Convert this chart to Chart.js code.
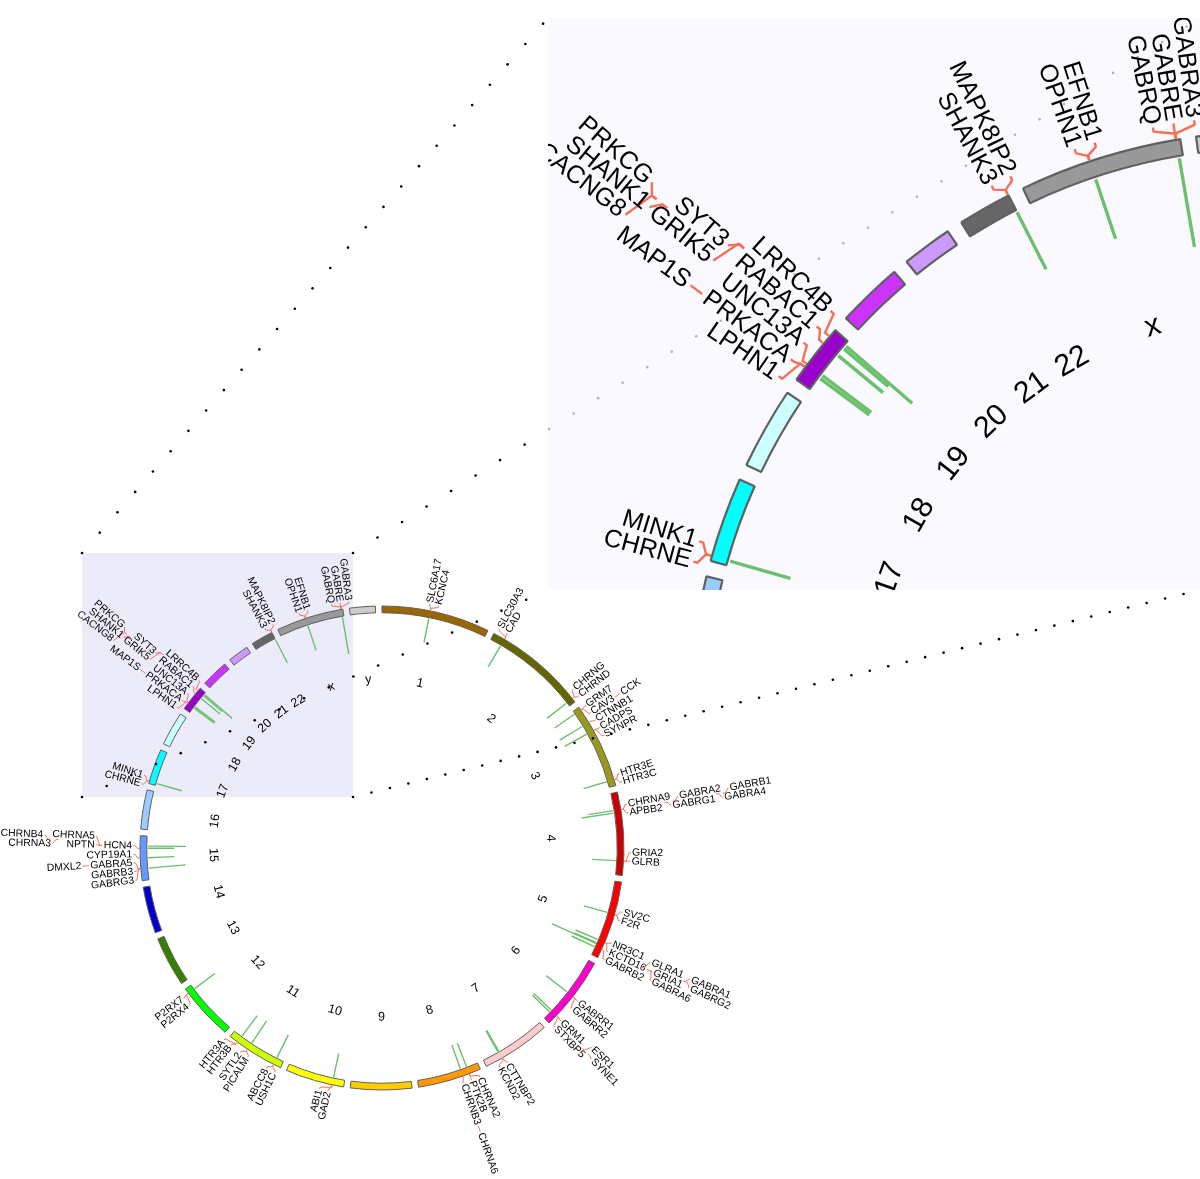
<!DOCTYPE html>
<html>
<head>
<meta charset="utf-8">
<script src="https://cdn.jsdelivr.net/npm/chart.js@4.4.0/dist/chart.umd.min.js"></script>
<style>
  body { margin: 0; background: #fff; }
  #page { position: relative; width: 1200px; height: 1179px; overflow: hidden; }
  #main { position: absolute; left: 0; top: 0; }
  #zoomBox { position: absolute; left: 548px; top: 18px; width: 652px; height: 572px; overflow: hidden; background: rgba(246,246,255,0.72); }
  #inset { position: absolute; left: -23px; top: -51px; }
</style>
</head>
<body>
<div id="page">
  <canvas id="main" width="1200" height="1179"></canvas>
  <div id="zoomBox"><canvas id="inset" width="1500" height="1500"></canvas></div>
</div>
<script>
// chromosomes (Mb)
const chromNames = ['1','2','3','4','5','6','7','8','9','10','11','12','13','14','15','16','17','18','19','20','21','22','x','y']
const chromLengths = [249.25, 243.2, 198.0, 191.15, 180.9, 171.1, 159.1, 146.4, 141.2, 135.5, 135.0, 133.85,
    115.2, 107.35, 102.5, 90.35, 81.2, 78.1, 59.1, 63.0, 48.1, 51.3, 155.3, 59.4]
const gapMb = 15

// genes with labels
const geneNames = ['SLC6A17','KCNC4','SLC30A3','CAD','CHRNG','CHRND','GRM7','CAV3','CCK','CTNNB1','CADPS','SYNPR',
    'HTR3E','HTR3C','CHRNA9','GABRA2','GABRB1','APBB2','GABRG1','GABRA4','GRIA2','GLRB','SV2C','F2R',
    'NR3C1','GLRA1','GABRA1','KCTD16','GRIA1','GABRG2','GABRB2','GABRA6','GABRR1','GABRR2','GRM1','ESR1',
    'STXBP5','SYNE1','CTTNBP2','KCND2','CHRNA2','PTK2B','CHRNB3','CHRNA6','ABI1','GAD2','ABCC8','USH1C',
    'SYTL2','PICALM','HTR3A','HTR3B','P2RX7','P2RX4','CHRNB4','CHRNA5','CHRNA3','NPTN','HCN4','CYP19A1',
    'DMXL2','GABRA5','GABRB3','GABRG3','MINK1','CHRNE','PRKCG','SHANK1','CACNG8','SYT3','GRIK5','LRRC4B',
    'RABAC1','MAP1S','UNC13A','PRKACA','LPHN1','MAPK8IP2','SHANK3','EFNB1','OPHN1','GABRA3','GABRE','GABRQ']
const geneChrom = ['1','1','2','2','2','2','3','3','3','3','3','3',
    '3','3','4','4','4','4','4','4','4','4','5','5',
    '5','5','5','5','5','5','5','5','6','6','6','6',
    '6','6','7','7','8','8','8','8','10','10','11','11',
    '11','11','11','11','12','12','15','15','15','15','15','15',
    '15','15','15','15','17','17','19','19','19','19','19','19',
    '19','19','19','19','19','22','22','x','x','x','x','x']
const genePos = [110.7, 110.75, 27.48, 27.44, 233.4, 233.39, 7.3, 8.78, 42.3, 41.24, 62.4, 63.26,
    183.8, 183.77, 40.34, 46.2, 47.1, 40.8, 46.0, 46.9, 158.1, 158.0, 75.6, 76.0,
    142.7, 151.2, 161.3, 143.6, 152.9, 161.5, 160.7, 161.1, 89.9, 89.97, 146.35, 152.1,
    147.5, 152.4, 117.3, 119.9, 27.3, 27.2, 42.55, 42.6, 27.0, 26.5, 17.4, 17.5,
    85.4, 85.7, 113.85, 113.77, 121.6, 121.65, 78.9, 78.86, 78.88, 73.9, 73.6, 51.5,
    51.7, 27.2, 26.8, 27.3, 4.78, 4.8, 54.4, 51.2, 54.5, 51.1, 42.5, 51.0,
    42.5, 17.8, 17.7, 14.2, 14.3, 51.0, 51.1, 68.0, 67.4, 151.4, 151.1, 151.8]

// green track
const peakChrom = ['1','2','2','3','3','3','3','4','4','4','5','5','5','5','5','6','6','6','7','7',
    '8','8','10','11','11','11','12','15','15','15','15','17','19','19','19','19','19','22','x','x']
const peakPos = [110.7, 27.5, 233.4, 7.3, 41.5, 62.5, 183.8, 40.3, 46.2, 158.1, 75.6, 142.7, 151.2, 152.9, 161.3,
    89.9, 146.4, 152.1, 117.3, 119.9, 27.3, 42.6, 26.8, 17.5, 85.6, 113.8, 121.6, 27.2, 51.6, 73.8, 78.9,
    4.8, 14.2, 17.8, 42.5, 51.1, 54.4, 51.1, 67.7, 151.4]
const peakScore = [1.0, 1.0, 1.0, 1.0, 1.1, 1.05, 1.0, 1.05, 1.35, 1.0, 1.0, 1.0, 1.0, 2.0, 1.05,
    1.1, 1.0, 1.0, 1.0, 1.0, 1.05, 1.05, 1.0, 1.05, 1.1, 1.05, 1.05, 1.55, 1.1, 1.1, 1.6,
    1.08, 1.05, 1.05, 1.0, 1.0, 1.5, 1.1, 1.08, 1.55]

const chromColors = ['rgb(153,102,0)','rgb(102,102,0)','rgb(153,153,30)','rgb(204,0,0)','rgb(255,0,0)','rgb(255,0,204)',
    'rgb(255,204,204)','rgb(255,153,0)','rgb(255,204,0)','rgb(255,255,0)','rgb(204,255,0)','rgb(0,255,0)',
    'rgb(53,128,0)','rgb(0,0,204)','rgb(102,153,255)','rgb(153,204,255)','rgb(0,255,255)','rgb(204,255,255)',
    'rgb(153,0,204)','rgb(204,51,255)','rgb(204,153,255)','rgb(102,102,102)','rgb(153,153,153)','rgb(204,204,204)']

// label stacks: rows in clockwise order, columns from the ring outwards
const labelGroups = [
    {rows: [['SLC6A17'], ['KCNC4']], shift: 0.6},
    {rows: [['SLC30A3'], ['CAD']], shift: -1.1},
    {rows: [['CHRNG'], ['CHRND']], shift: -0.55},
    {rows: [['GRM7'], ['CAV3', 'CCK'], ['CTNNB1'], ['CADPS'], ['SYNPR']], shift: 0.8},
    {rows: [['HTR3E'], ['HTR3C']]},
    {rows: [['CHRNA9', 'GABRA2', 'GABRB1'], ['APBB2', 'GABRG1', 'GABRA4']]},
    {rows: [['GRIA2'], ['GLRB']], shift: -1.0},
    {rows: [['SV2C'], ['F2R']]},
    {rows: [['NR3C1', 'GLRA1', 'GABRA1'], ['KCTD16', 'GRIA1', 'GABRG2'], ['GABRB2', 'GABRA6']], shift: 1.0},
    {rows: [['GABRR1'], ['GABRR2']], shift: 1.2},
    {rows: [['GRM1', 'ESR1'], ['STXBP5', 'SYNE1']], shift: 1.2},
    {rows: [['CTTNBP2'], ['KCND2']], shift: 0.5},
    {rows: [['CHRNA2'], ['PTK2B'], ['CHRNB3', 'CHRNA6']], shift: -0.5},
    {rows: [['GAD2'], ['ABI1']], shift: 1.6},
    {rows: [['USH1C'], ['ABCC8']]},
    {rows: [['PICALM'], ['SYTL2']]},
    {rows: [['HTR3B'], ['HTR3A']], shift: 1.8},
    {rows: [['P2RX4'], ['P2RX7']], shift: -1.2},
    {rows: [['GABRG3'], ['GABRB3'], ['GABRA5', 'DMXL2'], ['CYP19A1'], ['HCN4', 'NPTN', 'CHRNA3'], [null, 'CHRNA5', 'CHRNB4']]},
    {rows: [['CHRNE'], ['MINK1']]},
    {rows: [['LPHN1'], ['PRKACA', 'MAP1S'], ['UNC13A'], ['RABAC1', 'GRIK5', 'CACNG8'], ['LRRC4B', 'SYT3', 'SHANK1'], [null, null, 'PRKCG']], shift: 0.35},
    {rows: [['SHANK3'], ['MAPK8IP2']]},
    {rows: [['OPHN1'], ['EFNB1']]},
    {rows: [['GABRQ'], ['GABRE'], ['GABRA3']]}
]
// extra turn (degrees) for a few outer-column labels
const labelNudge = {GRIK5: -1.5, SYT3: -1.5, CACNG8: -2.25, SHANK1: -2.25, PRKCG: -2.25, ESR1: -0.6, SYNE1: -0.6}

// ring = chromosome, gap, chromosome, gap ...
const ringValues = [], ringColors = [], ringLabels = []
chromNames.forEach((c, i) => {
    ringValues.push(chromLengths[i], gapMb)
    ringColors.push(chromColors[i], 'rgba(0,0,0,0)')
    ringLabels.push('chr' + c, '')
})

const FONT = '"Liberation Sans", Arial, sans-serif'
const mean = arr => arr.reduce((s, v) => s + v, 0) / arr.length
const RAD = Math.PI / 180

const circosPlugin = {
    id: 'circos',
    beforeDatasetsDraw(chart, args, opts) {
        if (!opts.box) return
        const ctx = chart.ctx, b = opts.box
        ctx.save()
        ctx.fillStyle = '#ebebfa'
        ctx.fillRect(b[0], b[1], b[2] - b[0], b[3] - b[1])
        ctx.restore()
    },
    afterDatasetsDraw(chart, args, opts) {
        const ctx = chart.ctx, k = opts.k
        const arcs = chart.getDatasetMeta(0).data
        const cx = arcs[0].x, cy = arcs[0].y, R = arcs[0].outerRadius, Rin = arcs[0].innerRadius
        const P = (r, a) => [cx + r * Math.cos(a), cy + r * Math.sin(a)]
        const angleOf = (chr, pos) => {
            const i = chromNames.indexOf(chr), a = arcs[2 * i]
            return a.startAngle + (a.endAngle - a.startAngle) * pos / chromLengths[i]
        }
        const geneAngle = name => {
            const i = geneNames.indexOf(name)
            return angleOf(geneChrom[i], genePos[i])
        }
        const poly = pts => {
            ctx.beginPath()
            ctx.moveTo(pts[0][0], pts[0][1])
            pts.slice(1).forEach(p => ctx.lineTo(p[0], p[1]))
            ctx.stroke()
        }
        ctx.save()

        // dotted guides to the zoom panel
        if (opts.guides) {
            ctx.fillStyle = '#000'
            opts.guides.forEach(g => {
                const len = Math.hypot(g[2] - g[0], g[3] - g[1])
                const n = Math.floor(len / g[4])
                for (let t = 0; t <= n; t++) {
                    const f = t * g[4] / len
                    ctx.beginPath()
                    ctx.arc(g[0] + (g[2] - g[0]) * f, g[1] + (g[3] - g[1]) * f, 1.3, 0, Math.PI * 2)
                    ctx.fill()
                }
            })
        }

        // green track
        ctx.strokeStyle = '#6cbf6c'
        ctx.lineWidth = 1.4 * k
        peakChrom.forEach((c, i) => {
            const a = angleOf(c, peakPos[i])
            const r0 = Rin - 1 * k
            poly([P(r0, a), P(r0 - peakScore[i] * 24 * k, a)])
        })

        // gene labels
        ctx.font = (10.4 * k) + 'px ' + FONT
        ctx.textBaseline = 'middle'
        ctx.strokeStyle = '#f07258'
        ctx.lineWidth = 1 * k
        const dA = 8.8 * k / (R + 11 * k)
        const drawText = (txt, r, a) => {
            const right = Math.cos(a) >= 0
            ctx.save()
            ctx.translate(cx, cy)
            ctx.rotate(right ? a : a + Math.PI)
            ctx.textAlign = right ? 'left' : 'right'
            ctx.fillStyle = '#000'
            ctx.fillText(txt, right ? r : -r, 0)
            ctx.restore()
            return ctx.measureText(txt).width
        }
        labelGroups.forEach(g => {
            const rows = g.rows
            const col0 = rows.map((r, i) => r[0] ? i : -1).filter(i => i >= 0)
            const anchor = mean(col0.map(i => geneAngle(rows[i][0]))) + (g.shift || 0) * RAD
            const mid = (col0[0] + col0[col0.length - 1]) / 2
            const rowA = rows.map((r, i) => anchor + (i - mid) * dA)
            const ends = rows.map(() => null)
            const ncol = Math.max(...rows.map(r => r.length))
            for (let j = 0; j < ncol; j++) {
                if (j === 0) {
                    const r0 = R + 8 * k
                    col0.forEach(i => {
                        const ag = geneAngle(rows[i][0])
                        poly([P(R + 0.5 * k, ag), P(R + 2.5 * k, ag), P(R + 5 * k, rowA[i]), P(R + 6.8 * k, rowA[i])])
                        ends[i] = r0 + drawText(rows[i][0], r0, rowA[i])
                    })
                    continue
                }
                let i = 0
                while (i < rows.length) {
                    if (!rows[i][j]) { i++; continue }
                    let e = i
                    while (e + 1 < rows.length && rows[e + 1][j]) e++
                    const cl = []
                    for (let t = i; t <= e; t++) cl.push(t)
                    const prev = cl.filter(t => ends[t] !== null)
                    const top = Math.max(...prev.map(t => ends[t]))
                    const ac = mean(prev.map(t => rowA[t]))
                    const centre = mean(cl.map(t => rowA[t]))
                    const span = dA * (R + 8 * k) / (top + 9 * k)
                    const starts = cl.map(t => ends[t] !== null ? Math.max(ends[t], top - 8 * k) + 9 * k : top + 9 * k)
                    cl.forEach((t, q) => {
                        const s = starts[q]
                        const a = centre + (q - (cl.length - 1) / 2) * span + (labelNudge[rows[t][j]] || 0) * RAD
                        poly([P(s - 7.5 * k, ac), P(s - 5 * k, ac), P(s - 1.5 * k, a)])
                        ends[t] = s + drawText(rows[t][j], s, a)
                        rowA[t] = a
                    })
                    i = e + 1
                }
            }
        })

        // chromosome names
        ctx.font = (12.5 * k) + 'px ' + FONT
        ctx.textAlign = 'center'
        ctx.fillStyle = '#000'
        chromNames.forEach((n, i) => {
            const a = (arcs[2 * i].startAngle + arcs[2 * i].endAngle) / 2
            const th = a + Math.PI / 2
            const rot = (th > Math.PI / 2 && th < Math.PI * 1.5) ? th - Math.PI : th
            const p = P(169 * k, a)
            ctx.save()
            ctx.translate(p[0], p[1])
            ctx.rotate(rot)
            ctx.fillText(n, 0, 0)
            ctx.restore()
        })
        ctx.restore()
    }
}

function circosChart(id, k, cx, cy, w, h, extra) {
    const a = 250 * k
    return new Chart(id, {
        type: 'doughnut',
        data: {
            labels: ringLabels,
            datasets: [{
                data: ringValues,
                backgroundColor: ringColors,
                borderColor: ringColors.map((c, i) => i % 2 ? 'rgba(0,0,0,0)' : '#606060'),
                borderWidth: ringColors.map((c, i) => i % 2 ? 0 : (k > 1 ? 2.2 : 1))
            }]
        },
        options: {
            responsive: false,
            animation: false,
            events: [],
            rotation: 0,
            radius: 242 * k,
            cutout: '97.2%',
            layout: {padding: {left: cx - a, right: w - cx - a, top: cy - a, bottom: h - cy - a}},
            plugins: {
                legend: {display: false},
                tooltip: {enabled: false},
                circos: Object.assign({k: k}, extra)
            }
        },
        plugins: [circosPlugin]
    })
}

circosChart('main', 1, 382, 848, 1200, 1179, {
    box: [82, 553, 353, 797],
    guides: [[82, 553, 548, 18, 27], [353, 553, 1200, 18, 29], [82, 797, 548, 590, 27], [353, 797, 1200, 590, 19]]
})
circosChart('inset', 2.42, 750, 750, 1500, 1500, {})
</script>
</body>
</html>
